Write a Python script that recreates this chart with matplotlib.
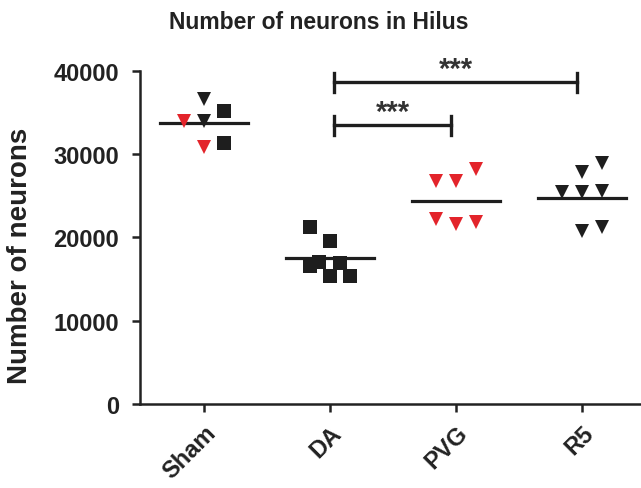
import numpy as np
import matplotlib.pyplot as plt

plt.rcParams['font.family'] = ['Liberation Sans', 'DejaVu Sans']
plt.rcParams['font.weight'] = 'bold'

groups = ['Sham', 'DA', 'PVG', 'R5']

# values, one list per group
sham_vals = [36600, 35200, 34000, 34000, 30900, 31400]
da_vals = [21240, 19560, 16570, 17040, 16930, 15370, 15370]
pvg_vals = [26800, 26800, 28200, 22200, 21600, 21800]
r5_vals = [28940, 27860, 25460, 25460, 25580, 20780, 21260]
group_means = [33800, 17500, 24400, 24700]

# marker kind per point: 'v' = triangle, 's' = square ; colour flag r/k
sham_kind = ['vk', 'sk', 'vr', 'vk', 'vr', 'sk']
da_kind = ['sk'] * 7
pvg_kind = ['vr'] * 6
r5_kind = ['vk'] * 7

# horizontal scatter of the points within a group
sham_off = [0, 0.16, -0.16, 0, 0, 0.16]
da_off = [-0.16, 0, -0.16, -0.09, 0.08, 0, 0.16]
pvg_off = [-0.16, 0, 0.16, -0.16, 0, 0.16]
r5_off = [0.16, 0, -0.16, 0, 0.16, 0, 0.16]

# significance brackets: (from group, to group, height)
brackets = [(1, 3, 38650), (1, 2, 33500)]
bracket_text = ['***', '***']

red = '#e3242b'
black = '#1e1e1e'
cols = {'r': red, 'k': black}

fig = plt.figure(figsize=(6.41, 4.89), dpi=100)
ax = fig.add_axes([0.2184, 0.1718, 0.7816, 0.681])

all_vals = [sham_vals, da_vals, pvg_vals, r5_vals]
all_kind = [sham_kind, da_kind, pvg_kind, r5_kind]
all_off = [sham_off, da_off, pvg_off, r5_off]

for i, (vals, kinds, offs) in enumerate(zip(all_vals, all_kind, all_off)):
    for v, k, o in zip(vals, kinds, offs):
        ms = 10 if k[0] == 's' else 10.5
        ax.plot(i + o, v, marker=k[0], color=cols[k[1]], ms=ms,
                markeredgewidth=0, linestyle='none', zorder=3)
    ax.plot([i - 0.35, i + 0.35], [group_means[i]] * 2, color=black,
            lw=2.3, zorder=2)

for (a, b, h), t in zip(brackets, bracket_text):
    ax.plot([a + 0.03, b - 0.04], [h, h], color=black, lw=2.4)
    for xx in (a + 0.03, b - 0.04):
        ax.plot([xx, xx], [h - 1150, h + 1150], color=black, lw=2.4)
    ax.text((a + b) / 2, h - 100, t, ha='center', va='bottom',
            fontsize=21, fontweight='bold', color='#333333')

ax.set_xlim(-0.51, 3.47)
ax.set_ylim(0, 40000)
ax.set_yticks([0, 10000, 20000, 30000, 40000])
ax.set_xticks(range(4))
ax.set_xticklabels(groups, rotation=45, ha='right', rotation_mode='anchor',
                   fontsize=17, fontweight='bold', color='#222222')
for lbl in ax.get_yticklabels():
    lbl.set_fontsize(17)
    lbl.set_fontweight('bold')
    lbl.set_color('#222222')

for s in ['top', 'right']:
    ax.spines[s].set_visible(False)
for s in ['left', 'bottom']:
    ax.spines[s].set_linewidth(1.8)
    ax.spines[s].set_color('#222222')
ax.tick_params(axis='both', length=6, width=1.8, color='#222222')
ax.tick_params(axis='y', pad=9)
ax.tick_params(axis='x', pad=6)

ax.set_ylabel('Number of neurons', fontsize=20, fontweight='bold',
              color='#222222')
ax.yaxis.set_label_coords(-0.214, 0.447)
fig.text(0.498, 0.955, 'Number of neurons in Hilus', ha='center', va='center',
         fontsize=16.5, fontweight='bold', color='#222222')

fig.savefig('out.png', dpi=100)
